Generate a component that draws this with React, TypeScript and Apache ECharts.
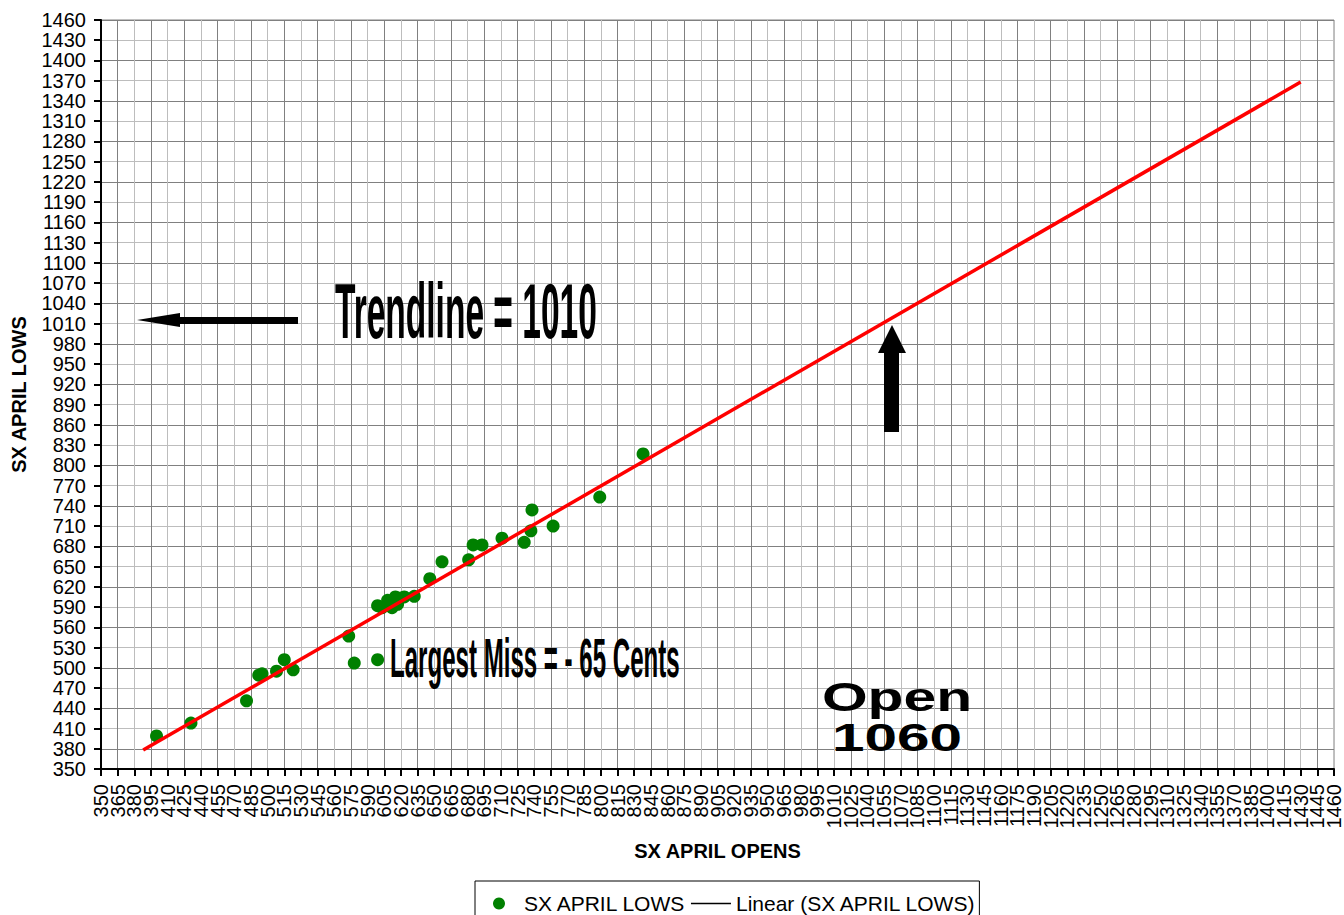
import React, { useEffect, useRef } from "react";
import * as echarts from "echarts";

const opens = [400, 431, 481, 492, 495, 508, 515, 523, 573, 578, 599, 599, 603, 608, 612, 615, 617, 619, 623, 632, 646, 657, 681, 685, 693, 711, 731, 737, 738, 757, 799, 838];
const lows = [399, 418, 451, 489, 491, 495, 512, 497, 547, 507, 512, 592, 589, 600, 589, 605, 594, 603, 605, 606, 632, 657, 660, 682, 682, 692, 686, 703, 734, 710, 753, 817];
const trendOpens = [388, 1430];
const trendLows = [378, 1368];

const axisMin = 350;
const axisMax = 1460;
const xStep = 15;
const yStep = 30;

const seriesName = "SX APRIL LOWS";
const trendName = "Linear (SX APRIL LOWS)";
const xTitle = "SX APRIL OPENS";
const yTitle = "SX APRIL LOWS";
const note1 = "Trendline = 1010";
const note2 = "Largest Miss = - 65 Cents";
const note3a = "Open";
const note3b = "1060";

const FONT = "'Liberation Sans', Arial, Helvetica, sans-serif";

export default function App() {
  const ref = useRef<HTMLDivElement>(null);
  useEffect(() => {
    if (!ref.current) return;
    const chart = echarts.init(ref.current, null, { renderer: "svg" });
    const gridColors = ["#bdbdbd", "#808080"];
    const plain = (v: number) => String(v);
    const xLabelStyle = {
      rotate: 90,
      fontSize: 20,
      color: "#000",
      margin: 15,
      fontFamily: FONT,
      formatter: plain,
    };
    chart.setOption({
      animation: false,
      backgroundColor: "#ffffff",
      textStyle: { fontFamily: FONT },
      grid: {
        left: 101,
        top: 20,
        right: 8,
        bottom: 146,
        show: true,
        borderColor: "#808080",
        borderWidth: 1,
        backgroundColor: "transparent",
      },
      legend: {
        left: 475,
        top: 881,
        padding: [12, 3, 14, 18],
        itemGap: 4,
        itemWidth: 40,
        itemHeight: 12,
        borderColor: "#000",
        borderWidth: 1,
        textStyle: { fontSize: 21, lineHeight: 16, color: "#000", fontFamily: FONT },
        data: [
          { name: seriesName, icon: "circle", itemStyle: { color: "#008000", opacity: 1 } },
          {
            name: trendName,
            lineStyle: { color: "#000", width: 1.5 },
            itemStyle: { opacity: 0 },
          },
        ],
      },
      xAxis: [
        {
          type: "value",
          position: "bottom",
          min: axisMin,
          max: axisMax,
          interval: xStep,
          name: xTitle,
          nameLocation: "middle",
          nameGap: 72,
          nameTextStyle: { fontSize: 20, fontWeight: "bold", color: "#000", fontFamily: FONT },
          axisLine: { show: true, onZero: false, lineStyle: { color: "#000", width: 2 } },
          axisTick: { show: true, length: 7, lineStyle: { color: "#000", width: 2 } },
          axisLabel: { ...xLabelStyle, showMinLabel: false, showMaxLabel: false },
          splitLine: { show: true, lineStyle: { color: gridColors, width: 1 } },
        },
        {
          type: "value",
          position: "bottom",
          offset: 0,
          min: axisMin,
          max: axisMax,
          interval: axisMax - axisMin,
          axisLine: { show: false, onZero: false },
          axisTick: { show: true, length: 7, lineStyle: { color: "#000", width: 2 } },
          axisLabel: { ...xLabelStyle, showMinLabel: true, showMaxLabel: true },
          splitLine: { show: false },
        },
      ],
      yAxis: {
        type: "value",
        min: axisMin,
        max: axisMax,
        interval: yStep,
        name: yTitle,
        nameLocation: "middle",
        nameGap: 72,
        nameTextStyle: { fontSize: 20, fontWeight: "bold", color: "#000", fontFamily: FONT },
        axisLine: { show: true, onZero: false, lineStyle: { color: "#000", width: 2 } },
        axisTick: { show: true, length: 7, lineStyle: { color: "#000", width: 2 } },
        axisLabel: {
          fontSize: 20,
          color: "#000",
          margin: 15,
          fontFamily: FONT,
          formatter: plain,
          showMinLabel: true,
          showMaxLabel: true,
        },
        splitLine: { show: true, lineStyle: { color: gridColors, width: 1 } },
      },
      series: [
        {
          name: seriesName,
          type: "scatter",
          xAxisIndex: 0,
          symbol: "circle",
          symbolSize: 13,
          itemStyle: { color: "#008000", opacity: 1 },
          data: opens.map((x, i) => [x, lows[i]]),
          z: 3,
        },
        {
          name: trendName,
          type: "line",
          xAxisIndex: 0,
          symbol: "none",
          lineStyle: { color: "#ff0000", width: 3.5 },
          itemStyle: { color: "#000" },
          data: trendOpens.map((x, i) => [x, trendLows[i]]),
          z: 4,
        },
      ],
      graphic: [
        {
          type: "polygon",
          shape: {
            points: [
              [137, 320], [180, 313], [180, 317], [298, 317], [298, 324], [180, 324], [180, 327],
            ],
          },
          style: { fill: "#000" },
          z: 10,
        },
        {
          type: "polygon",
          shape: {
            points: [
              [892, 325], [906, 353], [899, 353], [899, 432], [884, 432], [884, 353], [878, 353],
            ],
          },
          style: { fill: "#000" },
          z: 10,
        },
        {
          type: "text",
          x: 335,
          y: 311,
          scaleX: 0.43,
          style: {
            text: note1,
            fontSize: 78,
            fontWeight: "bold",
            fontFamily: FONT,
            fill: "#000",
            textAlign: "left",
            textVerticalAlign: "middle",
          },
          z: 10,
        },
        {
          type: "text",
          x: 390,
          y: 658,
          scaleX: 0.43,
          style: {
            text: note2,
            fontSize: 56,
            fontWeight: "bold",
            fontFamily: FONT,
            fill: "#000",
            textAlign: "left",
            textVerticalAlign: "middle",
          },
          z: 10,
        },
        {
          type: "text",
          x: 897,
          y: 697,
          scaleX: 1.47,
          style: {
            text: note3a,
            fontSize: 40,
            fontWeight: "bold",
            fontFamily: FONT,
            fill: "#000",
            textAlign: "center",
            textVerticalAlign: "middle",
          },
          z: 10,
        },
        {
          type: "text",
          x: 897,
          y: 738,
          scaleX: 1.5,
          style: {
            text: note3b,
            fontSize: 39,
            fontWeight: "bold",
            fontFamily: FONT,
            fill: "#000",
            textAlign: "center",
            textVerticalAlign: "middle",
          },
          z: 10,
        },
      ],
    });
    return () => chart.dispose();
  }, []);
  return (
    <div
      ref={ref}
      style={{ position: "fixed", left: 0, top: 0, width: 1344, height: 915, background: "#fff" }}
    />
  );
}
